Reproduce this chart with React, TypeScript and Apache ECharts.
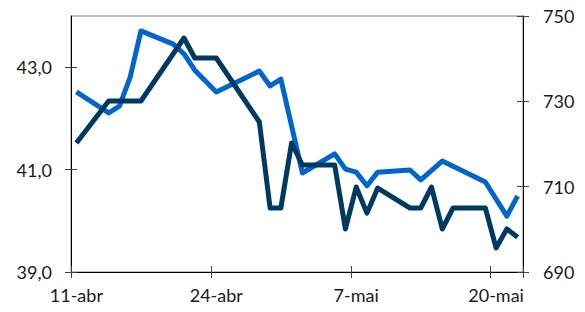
import React, { useEffect, useRef } from "react";
import * as echarts from "echarts";

// Category days (11-abr .. 22-mai)
const monthNames = ["abr", "mai"];
const startDay = 11;
const daysInApril = 30;
const dayCount = 42;
const categories: string[] = [];
for (let i = 0; i < dayCount; i++) {
  const d = startDay + i;
  categories.push(d <= daysInApril ? `${d}-${monthNames[0]}` : `${d - daysInApril}-${monthNames[1]}`);
}

// Light blue series (right axis)
const lightDates = [
  "11-abr", "14-abr", "15-abr", "16-abr", "17-abr", "20-abr", "21-abr", "22-abr", "24-abr",
  "28-abr", "29-abr", "30-abr", "2-mai", "5-mai", "6-mai", "7-mai", "8-mai", "9-mai",
  "12-mai", "13-mai", "15-mai", "16-mai", "19-mai", "21-mai", "22-mai",
];
const lightValues = [
  732.2, 727.3, 728.9, 735.7, 746.5, 743.4, 741.1, 737.3, 732.2,
  737.1, 733.6, 735.2, 713.2, 717.7, 714.1, 713.4, 710.2, 713.4,
  713.9, 711.6, 716.0, 714.8, 711.1, 703.1, 707.8,
];

// Dark navy series (left axis)
const darkDates = [
  "11-abr", "14-abr", "17-abr", "21-abr", "22-abr", "24-abr", "28-abr", "29-abr", "30-abr",
  "1-mai", "2-mai", "5-mai", "6-mai", "7-mai", "8-mai", "9-mai", "12-mai", "13-mai",
  "14-mai", "15-mai", "16-mai", "19-mai", "20-mai", "21-mai", "22-mai",
];
const darkValues = [
  41.52, 42.34, 42.34, 43.57, 43.18, 43.18, 41.93, 40.25, 40.25,
  41.52, 41.09, 41.09, 39.84, 40.66, 40.15, 40.64, 40.25, 40.25,
  40.66, 39.84, 40.25, 40.25, 39.47, 39.84, 39.68,
];

const leftTicks = [39, 41, 43];
const rightTicks = [690, 710, 730, 750];

function toSeries(dates: string[], values: number[]) {
  const arr: (number | null)[] = categories.map(() => null);
  dates.forEach((d, i) => {
    const idx = categories.indexOf(d);
    if (idx >= 0) arr[idx] = values[i];
  });
  return arr;
}

const FONT = "Lato";
const TEXT = "#1a1a1a";
const TICK = "#404040";

export default function App() {
  const ref = useRef<HTMLDivElement>(null);
  useEffect(() => {
    document.body.style.margin = "0";
    if (!ref.current) return;
    const chart = echarts.init(ref.current, undefined, { renderer: "svg" });
    const tickFn = (i: number) => i % 13 === 0;
    const labelStyle = { fontFamily: FONT, fontSize: 18, color: TEXT };
    chart.setOption({
      animation: false,
      grid: {
        left: 71, right: 62, top: 16, bottom: 40,
        show: true, borderColor: "#808080", borderWidth: 1, backgroundColor: "transparent",
      },
      xAxis: [
        {
          type: "category", data: categories, boundaryGap: true, position: "bottom",
          axisLine: { show: true, lineStyle: { color: "#000", width: 1 } },
          axisTick: { show: true, interval: tickFn, length: 6, inside: false, lineStyle: { color: TICK } },
          axisLabel: { ...labelStyle, interval: tickFn, margin: 14 },
          splitLine: { show: false },
        },
        {
          type: "category", data: categories, boundaryGap: true, position: "bottom",
          axisLine: { show: false },
          axisTick: { show: true, interval: tickFn, length: 6, inside: true, lineStyle: { color: TICK } },
          axisLabel: { show: false },
          splitLine: { show: false },
        },
      ],
      yAxis: [
        {
          type: "value", position: "left", min: 39, max: 44,
          axisLine: { show: true, lineStyle: { color: "#000", width: 1 } },
          axisTick: { show: true, length: 6, customValues: leftTicks, lineStyle: { color: TICK } },
          axisLabel: {
            ...labelStyle, margin: 19, customValues: leftTicks,
            formatter: (v: number) => v.toFixed(1).replace(".", ","),
          },
          splitLine: { show: false },
        },
        {
          type: "value", position: "right", min: 690, max: 750, interval: 20,
          axisLine: { show: true, lineStyle: { color: "#000", width: 1 } },
          axisTick: { show: true, length: 6, customValues: rightTicks, lineStyle: { color: TICK } },
          axisLabel: { ...labelStyle, margin: 20, customValues: rightTicks },
          splitLine: { show: false },
        },
        {
          type: "value", position: "left", min: 39, max: 44,
          axisLine: { show: false },
          axisTick: { show: true, length: 6, inside: true, customValues: leftTicks, lineStyle: { color: TICK } },
          axisLabel: { show: false },
          splitLine: { show: false },
        },
        {
          type: "value", position: "right", min: 690, max: 750,
          axisLine: { show: false },
          axisTick: { show: true, length: 6, inside: true, customValues: rightTicks, lineStyle: { color: TICK } },
          axisLabel: { show: false },
          splitLine: { show: false },
        },
      ],
      series: [
        {
          type: "line", xAxisIndex: 0, yAxisIndex: 1,
          data: toSeries(lightDates, lightValues), connectNulls: true,
          showSymbol: false, symbol: "none",
          lineStyle: { color: "#0066CC", width: 5, join: "round" },
        },
        {
          type: "line", xAxisIndex: 0, yAxisIndex: 0,
          data: toSeries(darkDates, darkValues), connectNulls: true,
          showSymbol: false, symbol: "none",
          lineStyle: { color: "#003A63", width: 5, join: "round" },
        },
      ],
    });
    return () => chart.dispose();
  }, []);
  return <div ref={ref} style={{ width: 585, height: 312 }} />;
}
